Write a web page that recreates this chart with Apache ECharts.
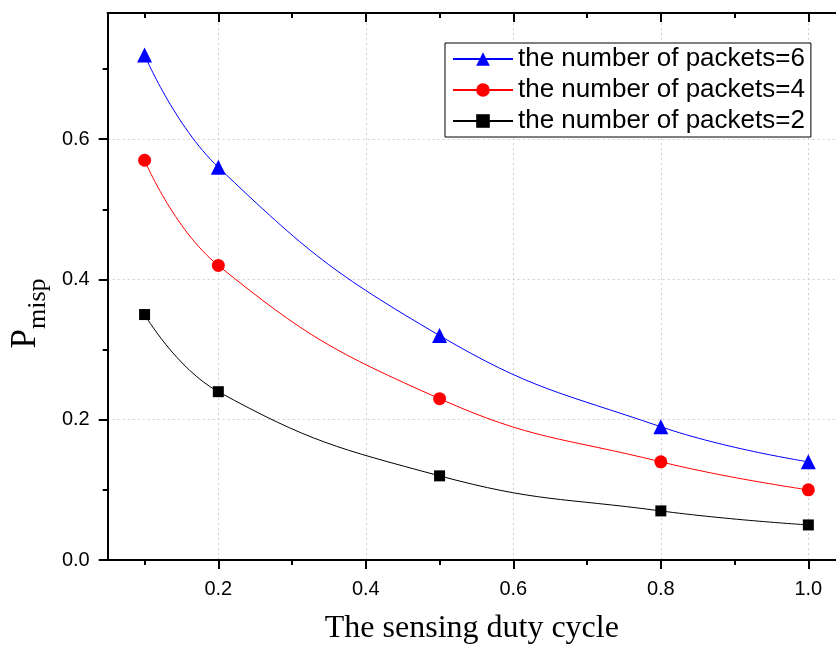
<!DOCTYPE html>
<html><head><meta charset="utf-8">
<script src="https://cdn.jsdelivr.net/npm/echarts@6/dist/echarts.min.js"></script>
<style>html,body{margin:0;padding:0;background:#fff}#c{width:836px;height:650px}</style>
</head><body><div id="c"></div>
<script>
const dutyCycle = [0.1, 0.2, 0.5, 0.8, 1.0];
const packets6 = [0.72, 0.56, 0.32, 0.19, 0.14];
const packets4 = [0.57, 0.42, 0.23, 0.14, 0.10];
const packets2 = [0.35, 0.24, 0.12, 0.07, 0.05];
const xMajorTicks = [0.2, 0.4, 0.6, 0.8, 1.0];
const xMinorTicks = [0.1, 0.3, 0.5, 0.7, 0.9];
const yMajorTicks = [0.0, 0.2, 0.4, 0.6];
const yMinorTicks = [0.1, 0.3, 0.5, 0.7];
const seriesNames = ['the number of packets=6', 'the number of packets=4', 'the number of packets=2'];

const pair = v => dutyCycle.map((x, i) => [x, v[i]]);
const F = 'Liberation Sans, Arial, sans-serif';
const SERIF = 'Liberation Serif, Times New Roman, serif';
const XMIN = 0.05, XMAX = 1.0375, YMIN = 0, YMAX = 0.78;
const axisLineStyle = {color: '#000', width: 2};
const fmt = v => Number(v).toFixed(1);

function xAx(pos, ticks, len, inside, labels, split) {
  return {
    type: 'value', position: pos, min: XMIN, max: XMAX, gridIndex: 0,
    axisLine: {show: true, onZero: false, lineStyle: axisLineStyle},
    axisTick: {show: true, customValues: ticks, length: len, inside: inside, lineStyle: {color: '#000', width: 2}},
    axisLabel: labels ? {show: true, customValues: ticks, formatter: fmt, fontFamily: F, fontSize: 20, color: '#000', margin: 19} : {show: false},
    splitLine: split ? {show: true, lineStyle: {color: '#d0d0d0', type: [2, 3], width: 1}} : {show: false},
    minorTick: {show: false}
  };
}
function yAx(pos, ticks, len, inside, labels, split, name) {
  const a = {
    type: 'value', position: pos, min: YMIN, max: YMAX, gridIndex: 0,
    axisLine: {show: true, onZero: false, lineStyle: axisLineStyle},
    axisTick: {show: true, customValues: ticks, length: len, inside: inside, lineStyle: {color: '#000', width: 2}},
    axisLabel: labels ? {show: true, customValues: ticks, formatter: fmt, fontFamily: F, fontSize: 20, color: '#000', margin: 18} : {show: false},
    splitLine: split ? {show: true, lineStyle: {color: '#d0d0d0', type: [2, 3], width: 1}} : {show: false}
  };
  if (name) {
    a.name = '{p|P}{s|misp}';
    a.nameLocation = 'middle';
    a.nameRotate = 90;
    a.nameGap = 52;
    a.nameTextStyle = {
      rich: {
        p: {fontFamily: SERIF, fontSize: 35, color: '#000', verticalAlign: 'bottom', lineHeight: 38},
        s: {fontFamily: SERIF, fontSize: 26, color: '#000', verticalAlign: 'bottom', lineHeight: 38, padding: [0, 54, -8, 0]}
      }
    };
  }
  return a;
}

const x0 = xAx('bottom', xMajorTicks, 9, false, true, true);
x0.name = 'The sensing duty cycle';
x0.nameLocation = 'middle';
x0.nameGap = 53;
x0.nameTextStyle = {fontFamily: SERIF, fontSize: 32, color: '#000', verticalAlign: 'top'};

const chart = echarts.init(document.getElementById('c'), null, {renderer: 'canvas'});
const sym = {
  'the number of packets=6': ['triangle', 15, '#0000ff'],
  'the number of packets=4': ['circle', 13, '#ff0000'],
  'the number of packets=2': ['rect', 11, '#000000']
};
const datas = [packets6, packets4, packets2];
chart.setOption({
  animation: false,
  backgroundColor: '#fff',
  grid: {left: 105, top: 13, right: 0, bottom: 88, containLabel: false},
  legend: {
    data: seriesNames, orient: 'vertical', left: 445, top: 43,
    backgroundColor: '#fff', borderColor: '#000', borderWidth: 1,
    padding: [3, 6, 3, 7], itemWidth: 60, itemHeight: 17, itemGap: 5,
    textStyle: {fontFamily: F, fontSize: 26, color: '#000'}
  },
  xAxis: [
    x0,
    xAx('bottom', xMinorTicks, 5, false, false, false),
    xAx('top', xMajorTicks, 9, true, false, false),
    xAx('top', xMinorTicks, 5, true, false, false)
  ],
  yAxis: [
    yAx('left', yMajorTicks, 9, false, true, true, true),
    yAx('left', yMinorTicks, 5, false, false, false, false)
  ],
  series: seriesNames.map((n, i) => ({
    name: n, type: 'line', xAxisIndex: 0, yAxisIndex: 0,
    data: pair(datas[i]), smooth: 0.45,
    symbol: sym[n][0], symbolSize: sym[n][1],
    itemStyle: {color: sym[n][2]},
    lineStyle: {color: sym[n][2], width: 1},
    z: 3 - i
  }))
});
</script>
</body></html>
